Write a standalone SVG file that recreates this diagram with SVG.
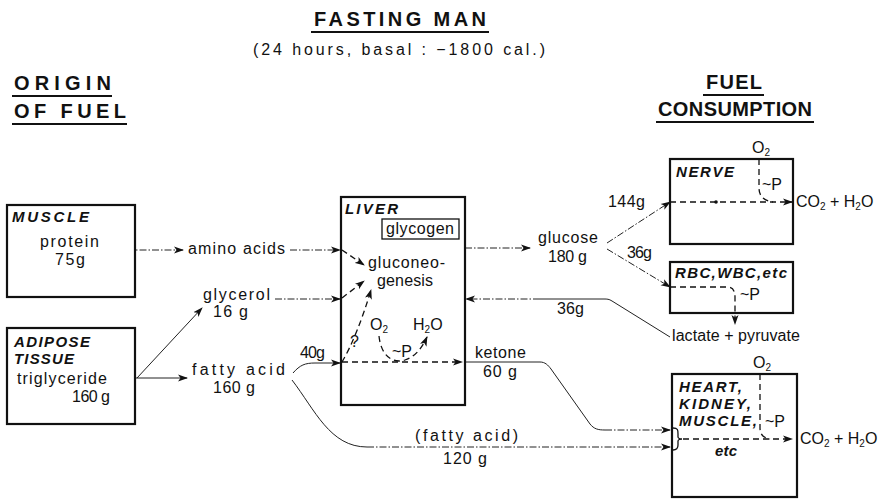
<svg xmlns="http://www.w3.org/2000/svg" width="880" height="503" viewBox="0 0 880 503">
<defs>
<style>
text{font-family:"Liberation Sans",Arial,sans-serif;fill:#111;font-size:16px}
.h{font-size:20px;font-weight:bold}
.sub{font-size:16px}
.it{font-style:italic;font-weight:bold;font-size:15px}
.box{fill:#fff;stroke:#111;stroke-width:2.2}
.ul{stroke:#111;stroke-width:2.2}
.c{fill:none;stroke:#222;stroke-width:1}
.dd{fill:none;stroke:#222;stroke-width:1;stroke-dasharray:7 2 1.5 2}
.ds{fill:none;stroke:#111;stroke-width:1.3;stroke-dasharray:6 4}
.s{font-size:10px}
</style>
<marker id="ah" viewBox="0 0 10 8" refX="9" refY="4" markerWidth="10" markerHeight="8" markerUnits="userSpaceOnUse" orient="auto">
<path d="M0,0.5 L10,4 L0,7.5 L2.5,4 z" fill="#111"/>
</marker>
</defs>

<g id="titles">
<text class="h" x="314" y="26" textLength="172" lengthAdjust="spacing">FASTING MAN</text>
<line class="ul" x1="311" y1="32" x2="489" y2="32"/>
<text class="sub" x="253" y="55" textLength="292" lengthAdjust="spacing">(24 hours, basal  :  −1800 cal.)</text>
<text class="h" x="14" y="90" textLength="97" lengthAdjust="spacing">ORIGIN</text>
<line class="ul" x1="12" y1="96" x2="112" y2="96"/>
<text class="h" x="14" y="118" textLength="112" lengthAdjust="spacing">OF FUEL</text>
<line class="ul" x1="12" y1="124" x2="127" y2="124"/>
<text class="h" x="706" y="89" textLength="56" lengthAdjust="spacing">FUEL</text>
<line class="ul" x1="703" y1="95" x2="764" y2="95"/>
<text class="h" x="658" y="116" textLength="154" lengthAdjust="spacing">CONSUMPTION</text>
<line class="ul" x1="656" y1="122" x2="814" y2="122"/>
</g>

<g id="connectors">
<path class="dd" d="M102,250 L183,250" marker-end="url(#ah)"/>
<path class="dd" d="M290,250 L340,250" marker-end="url(#ah)"/>
<path class="c" d="M113,378 L137,378 L187,378" marker-end="url(#ah)"/>
<path class="c" d="M137,378 L202,308" marker-end="url(#ah)"/>
<path class="dd" d="M275,299 L340,299" marker-end="url(#ah)"/>
<path class="c" d="M293,373 C300,365 305,363 315,363 L340,363" marker-end="url(#ah)"/>
<path class="c" d="M292,380 C315,410 330,447 367,447"/>
<path class="dd" d="M367,447 L670,447" marker-end="url(#ah)"/>
<path class="c" d="M465,362 L540,362 C545,362 548,365 551,369 L590,424 C594,429 598,430 605,430"/>
<path class="dd" d="M605,430 L670,430" marker-end="url(#ah)"/>
<path class="c" d="M438,240 C445,247 450,248 463,248"/>
<path class="c" d="M446,267 L463,248"/>
<circle cx="463" cy="248" r="1.6" fill="#111"/>
<path class="dd" d="M465,248 L530,248" marker-end="url(#ah)"/>
<path class="dd" d="M607,243 L670,202" marker-end="url(#ah)"/>
<path class="dd" d="M607,249 L670,287" marker-end="url(#ah)"/>
<path class="c" d="M670,337 L612,301 C609,299 607,299 604,299 L540,299"/>
<path class="dd" d="M540,299 L466,299" marker-end="url(#ah)"/>
<path class="ds" d="M464,299 C455,293 450,287 444,279" marker-end="url(#ah)"/>
</g>

<g id="muscle">
<rect class="box" x="7" y="205" width="128" height="92"/>
<text class="it" x="12" y="222" textLength="77" lengthAdjust="spacing">MUSCLE</text>
<text x="40" y="247" textLength="59" lengthAdjust="spacing">protein</text>
<text x="55" y="265" textLength="30" lengthAdjust="spacing">75g</text>
</g>

<g id="adipose">
<rect class="box" x="7" y="328" width="128" height="96"/>
<text class="it" x="14" y="347" textLength="76" lengthAdjust="spacing">ADIPOSE</text>
<text class="it" x="14" y="364" textLength="60" lengthAdjust="spacing">TISSUE</text>
<text x="17" y="384" textLength="90" lengthAdjust="spacing">triglyceride</text>
<text x="72" y="402" textLength="38" lengthAdjust="spacing">160 g</text>
</g>

<g id="labels">
<text x="188" y="254" textLength="97" lengthAdjust="spacing">amino acids</text>
<text x="203" y="300" textLength="67" lengthAdjust="spacing">glycerol</text>
<text x="213" y="317" textLength="35" lengthAdjust="spacing">16 g</text>
<text x="192" y="375" textLength="93" lengthAdjust="spacing">fatty acid</text>
<text x="213" y="393" textLength="42" lengthAdjust="spacing">160 g</text>
<text x="300" y="358" textLength="25" lengthAdjust="spacing">40g</text>
<text x="415" y="441" textLength="103" lengthAdjust="spacing">(fatty acid)</text>
<text x="443" y="464" textLength="44" lengthAdjust="spacing">120 g</text>
<text x="475" y="358" textLength="51" lengthAdjust="spacing">ketone</text>
<text x="483" y="377" textLength="34" lengthAdjust="spacing">60 g</text>
<text x="538" y="243" textLength="60" lengthAdjust="spacing">glucose</text>
<text x="548" y="262" textLength="39" lengthAdjust="spacing">180 g</text>
<text x="608" y="207" textLength="37" lengthAdjust="spacing">144g</text>
<text x="627" y="258" textLength="25" lengthAdjust="spacing">36g</text>
<text x="557" y="314" textLength="27" lengthAdjust="spacing">36g</text>
<text x="672" y="341" textLength="128" lengthAdjust="spacing">lactate + pyruvate</text>
</g>

<g id="liver">
<rect class="box" x="341" y="197" width="124" height="208"/>
<text class="it" x="345" y="214" textLength="53" lengthAdjust="spacing">LIVER</text>
<rect x="382" y="219" width="77" height="20" fill="#fff" stroke="#111" stroke-width="1.3"/>
<text x="386" y="234" textLength="68" lengthAdjust="spacing">glycogen</text>
<text x="368" y="268" textLength="77" lengthAdjust="spacing">gluconeo-</text>
<text x="377" y="286" textLength="56" lengthAdjust="spacing">genesis</text>
<path class="ds" d="M342,250 L364,265" marker-end="url(#ah)"/>
<path class="ds" d="M342,298 L364,281" marker-end="url(#ah)"/>
<path class="ds" d="M342,362 C352,345 362,320 371,290" marker-end="url(#ah)"/>
<text x="350" y="347" font-size="13">?</text>
<text x="370" y="330">O<tspan class="s" dy="3">2</tspan></text>
<text x="413" y="330">H<tspan class="s" dy="3">2</tspan><tspan dy="-3">O</tspan></text>
<path class="ds" d="M379,336 C381,356 393,364 405,360 C415,357 422,348 427,337" marker-end="url(#ah)"/>
<text x="392" y="357">~P</text>
<path class="ds" d="M342,362 L462,362" marker-end="url(#ah)"/>
</g>

<g id="nerve">
<rect class="box" x="670" y="159" width="123" height="85"/>
<text class="it" x="676" y="177" textLength="58" lengthAdjust="spacing">NERVE</text>
<text x="752" y="153">O<tspan class="s" dy="3">2</tspan></text>
<path class="ds" d="M759,159 L759,188 C759,197 765,201 773,202"/>
<path class="ds" d="M670,202 L792,202" marker-end="url(#ah)"/>
<circle cx="716" cy="202" r="1.8" fill="#111"/>
<text x="762" y="190">~P</text>
<text x="796" y="207">CO<tspan class="s" dy="3">2</tspan><tspan dy="-3"> + H</tspan><tspan class="s" dy="3">2</tspan><tspan dy="-3">O</tspan></text>
</g>

<g id="rbc">
<rect class="box" x="670" y="262" width="123" height="51"/>
<text class="it" x="675" y="278" textLength="112" lengthAdjust="spacing">RBC,WBC,etc</text>
<path class="ds" d="M670,287 L727,287 C733,287 735,291 735,297 L735,324" marker-end="url(#ah)"/>
<text x="740" y="300">~P</text>
</g>

<g id="heart">
<rect class="box" x="672" y="374" width="125" height="123"/>
<text class="it" x="679" y="392" textLength="63" lengthAdjust="spacing">HEART,</text>
<text class="it" x="679" y="409" textLength="72" lengthAdjust="spacing">KIDNEY,</text>
<text class="it" x="679" y="426" textLength="78" lengthAdjust="spacing">MUSCLE,</text>
<text class="it" x="715" y="456" textLength="22" lengthAdjust="spacing">etc</text>
<path d="M673,428 C678,428 678,430 678,434 L678,437 C678,438 680,439 682,439 C680,439 678,440 678,441 L678,445 C678,449 676,450 673,450" fill="none" stroke="#111" stroke-width="1.3"/>
<text x="753" y="368">O<tspan class="s" dy="3">2</tspan></text>
<path class="ds" d="M760,374 L760,428 C760,435 764,438 770,439"/>
<path class="ds" d="M683,439 L792,439" marker-end="url(#ah)"/>
<text x="765" y="427">~P</text>
<text x="800" y="444">CO<tspan class="s" dy="3">2</tspan><tspan dy="-3"> + H</tspan><tspan class="s" dy="3">2</tspan><tspan dy="-3">O</tspan></text>
</g>
</svg>
